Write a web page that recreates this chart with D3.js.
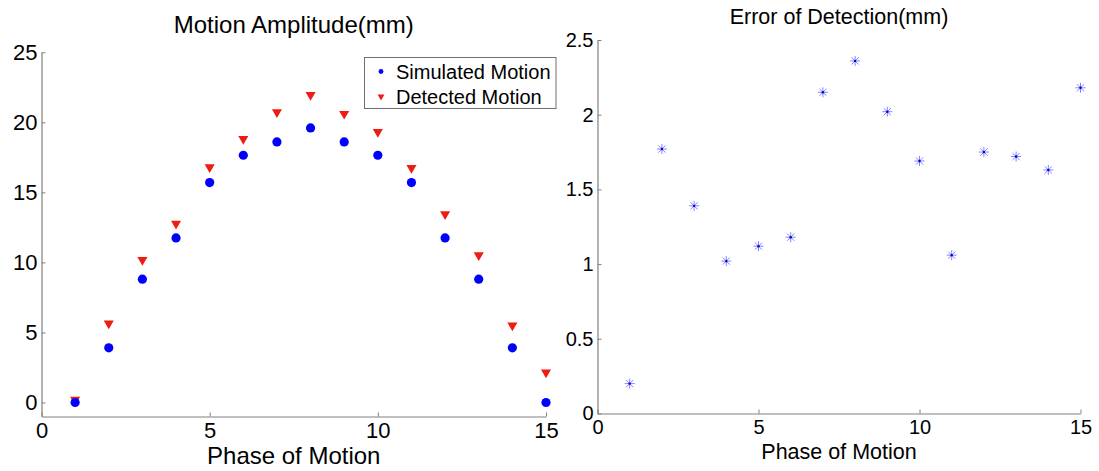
<!DOCTYPE html>
<html>
<head>
<meta charset="utf-8">
<script src="https://cdn.jsdelivr.net/npm/d3@7"></script>
<style>
  html, body { margin: 0; padding: 0; background: #fff; }
  svg { display: block; font-family: "Liberation Sans", Arial, sans-serif; }
</style>
</head>
<body>
<svg id="chart" width="1099" height="471"></svg>
<script>
// ---------- data ----------
const phases = [1,2,3,4,5,6,7,8,9,10,11,12,13,14,15];
const simulatedMotion = [0, 3.9, 8.8, 11.75, 15.7, 17.65, 18.6, 19.6, 18.6, 17.65, 15.7, 11.75, 8.8, 3.9, 0];
const detectedMotion  = [0.2, 5.65, 10.18, 12.76, 16.8, 18.82, 20.73, 21.95, 20.61, 19.32, 16.74, 13.45, 10.51, 5.5, 2.14];
const detectionError  = [0.2, 1.77, 1.39, 1.02, 1.12, 1.18, 2.15, 2.36, 2.02, 1.69, 1.06, 1.75, 1.72, 1.63, 2.18];
const xTicks = [0, 5, 10, 15];
const leftYTicks = [0, 5, 10, 15, 20, 25];
const rightYTicks = [0, 0.5, 1, 1.5, 2, 2.5];
const leftTitle = "Motion Amplitude(mm)";
const rightTitle = "Error of Detection(mm)";
const xLabel = "Phase of Motion";
const legendLabels = ["Simulated Motion", "Detected Motion"];

// ---------- setup ----------
const svg = d3.select("#chart");
const AXIS = "#808080";
const BLUE = "#0000ff";
const RED = "#ee1c12";

function styleAxis(g, fontSize) {
  g.select(".domain").attr("stroke", AXIS).attr("stroke-width", 1.2);
  g.selectAll(".tick line").attr("stroke", AXIS).attr("stroke-width", 1);
  g.selectAll(".tick text").attr("fill", "#000").attr("font-size", fontSize)
    .attr("font-family", "Liberation Sans, Arial, sans-serif");
}

// ---------- left panel ----------
const L = { x0: 41.5, x1: 546, y0: 416.5, y1: 52.3 };
const xL = d3.scaleLinear().domain([0, 15]).range([L.x0, L.x1]);
const yL = d3.scaleLinear().domain([-1, 25]).range([L.y0, L.y1]);

const gLx = svg.append("g").attr("transform", `translate(0,${L.y0})`)
  .call(d3.axisBottom(xL).tickValues(xTicks).tickFormat(d3.format("d"))
    .tickSizeInner(-4).tickSizeOuter(0).tickPadding(6));
styleAxis(gLx, 22);
const gLy = svg.append("g").attr("transform", `translate(${L.x0},0)`)
  .call(d3.axisLeft(yL).tickValues(leftYTicks).tickFormat(d3.format("d"))
    .tickSizeInner(-4).tickSizeOuter(0).tickPadding(4));
styleAxis(gLy, 22);

svg.append("text").attr("x", (L.x0 + L.x1) / 2).attr("y", 33)
  .attr("text-anchor", "middle").attr("font-size", 24).text(leftTitle);
svg.append("text").attr("x", (L.x0 + L.x1) / 2).attr("y", 464)
  .attr("text-anchor", "middle").attr("font-size", 24).text(xLabel);

const tri = d3.symbol().type(d3.symbolTriangle).size(44);
svg.append("g").selectAll("path").data(phases).join("path")
  .attr("d", tri)
  .attr("transform", (d, i) => `translate(${xL(d)},${yL(detectedMotion[i])}) rotate(180)`)
  .attr("fill", RED);
svg.append("g").selectAll("circle").data(phases).join("circle")
  .attr("cx", d => xL(d)).attr("cy", (d, i) => yL(simulatedMotion[i]))
  .attr("r", 4.6).attr("fill", BLUE);

// legend
const lg = svg.append("g");
lg.append("rect").attr("x", 364.5).attr("y", 57.5).attr("width", 191.5).attr("height", 51)
  .attr("fill", "#fff").attr("stroke", "#707070").attr("stroke-width", 1);
lg.append("circle").attr("cx", 381).attr("cy", 71.5).attr("r", 2.4).attr("fill", BLUE);
lg.append("path").attr("d", d3.symbol().type(d3.symbolTriangle).size(20))
  .attr("transform", "translate(381,96.5) rotate(180)").attr("fill", RED);
lg.selectAll("text").data(legendLabels).join("text")
  .attr("x", 396).attr("y", (d, i) => 78.5 + i * 25)
  .attr("font-size", 20).text(d => d);

// ---------- right panel ----------
const R = { x0: 597.5, x1: 1080.5, y0: 413.5, y1: 40 };
const xR = d3.scaleLinear().domain([0, 15]).range([R.x0, R.x1]);
const yR = d3.scaleLinear().domain([0, 2.5]).range([R.y0, R.y1]);

const gRx = svg.append("g").attr("transform", `translate(0,${R.y0})`)
  .call(d3.axisBottom(xR).tickValues(xTicks).tickFormat(d3.format("d"))
    .tickSizeInner(-4).tickSizeOuter(0).tickPadding(6));
styleAxis(gRx, 20);
const gRy = svg.append("g").attr("transform", `translate(${R.x0},0)`)
  .call(d3.axisLeft(yR).tickValues(rightYTicks).tickFormat(d => String(d))
    .tickSizeInner(-4).tickSizeOuter(0).tickPadding(4));
styleAxis(gRy, 20);

svg.append("text").attr("x", (R.x0 + R.x1) / 2).attr("y", 24)
  .attr("text-anchor", "middle").attr("font-size", 21.5).text(rightTitle);
svg.append("text").attr("x", (R.x0 + R.x1) / 2).attr("y", 459)
  .attr("text-anchor", "middle").attr("font-size", 21.5).text(xLabel);

const stars = svg.append("g").selectAll("g").data(phases).join("g")
  .attr("transform", (d, i) => `translate(${xR(d)},${yR(detectionError[i])})`);
const s = 5, dg = 3.6;
const starPath = `M${-s},0L${s},0M0,${-s}L0,${s}M${-dg},${-dg}L${dg},${dg}M${-dg},${dg}L${dg},${-dg}`;
stars.append("path").attr("d", starPath).attr("stroke", "#5a5aff")
  .attr("stroke-width", 1).attr("stroke-opacity", 0.75).attr("fill", "none");
stars.append("circle").attr("r", 1.2).attr("fill", "#0000cc");
</script>
</body>
</html>
